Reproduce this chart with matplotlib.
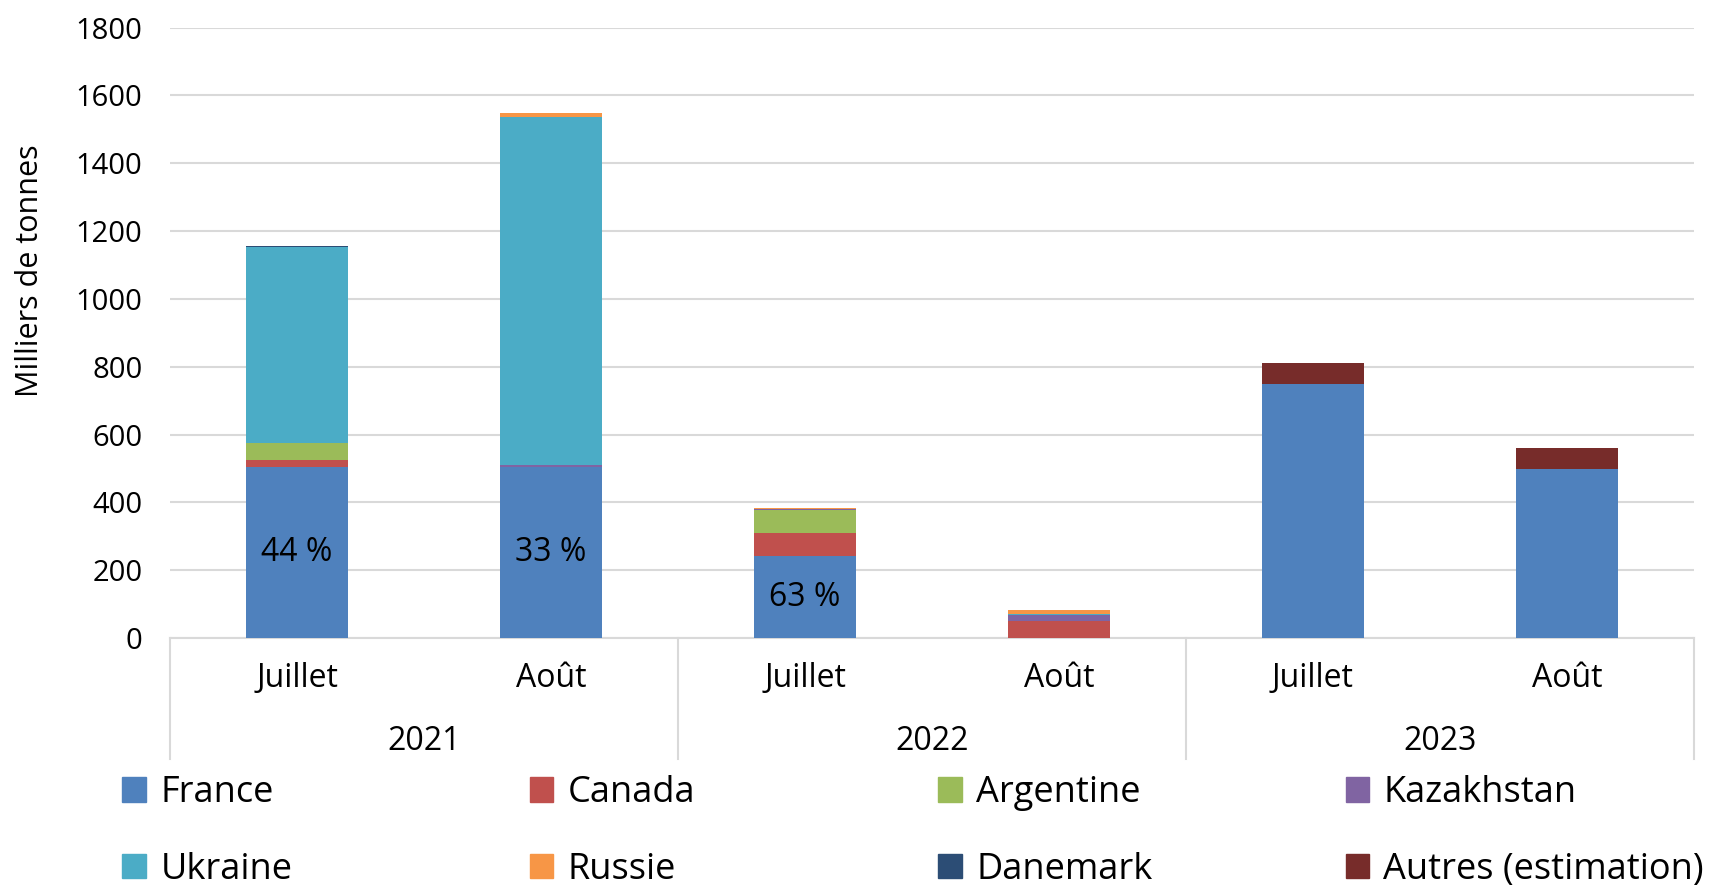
import matplotlib
matplotlib.use("Agg")
import matplotlib.pyplot as plt
from matplotlib.patches import Patch

plt.rcParams["font.family"] = ["Open Sans", "DejaVu Sans"]

months = ["Juillet", "Août", "Juillet", "Août", "Juillet", "Août"]
years = ["2021", "2022", "2023"]
pct_labels = ["44 %", "33 %", "63 %", "", "", ""]

france = [505, 504, 241, 0, 750, 499]
canada = [21, 0, 70, 51, 0, 0]
argentine = [48, 0, 67, 0, 0, 0]
kazakhstan = [0, 5, 3, 18, 0, 0]
ukraine = [580, 1027, 0, 3, 0, 0]
russie = [0, 12, 2, 10, 0, 0]
danemark = [3, 0, 0, 0, 0, 0]
autres = [0, 0, 0, 0, 61, 61]

series = [
    ("France", france, "#4F81BD"),
    ("Canada", canada, "#C0504D"),
    ("Argentine", argentine, "#9BBB59"),
    ("Kazakhstan", kazakhstan, "#8064A2"),
    ("Ukraine", ukraine, "#4BACC6"),
    ("Russie", russie, "#F79646"),
    ("Danemark", danemark, "#2C4D75"),
    ("Autres (estimation)", autres, "#772C2A"),
]

GRID = "#D9D9D9"
FS = 21    # tick numbers
FT = 23    # category / percent text

fig = plt.figure(figsize=(17.25, 8.89), dpi=100)
ax = fig.add_axes([0.0986, 0.2823, 0.8834, 0.6867])

x = list(range(len(months)))
bottom = [0] * len(months)
for name, vals, col in series:
    ax.bar(x, vals, width=0.4, bottom=bottom, color=col, label=name, zorder=3)
    bottom = [b + v for b, v in zip(bottom, vals)]

for i, lab in enumerate(pct_labels):
    if lab:
        ax.text(i, france[i] / 2, lab, ha="center", va="center", fontsize=FT, zorder=4)

ax.set_xlim(-0.5, 5.5)
ax.set_ylim(0, 1800)
ax.set_yticks(range(0, 1801, 200))
ax.yaxis.grid(True, color=GRID, lw=1.5, zorder=0)
ax.tick_params(axis="y", length=0, pad=20, labelsize=FS)
ax.tick_params(axis="x", length=0, labelbottom=False)
for s in ["top", "right", "left"]:
    ax.spines[s].set_visible(False)
ax.spines["bottom"].set_color(GRID)
ax.spines["bottom"].set_linewidth(1.5)
fig.text(0.0174, 0.696, "Milliers de tonnes", rotation=90, ha="center", va="center", fontsize=22)

tr = ax.get_xaxis_transform()
for i, m in enumerate(months):
    ax.text(i, -0.067, m, transform=tr, ha="center", va="center", fontsize=FT)
for j, yr in enumerate(years):
    ax.text(2 * j + 0.5, -0.170, yr, transform=tr, ha="center", va="center", fontsize=FT)
for xs in [-0.5, 1.5, 3.5, 5.5]:
    ax.plot([xs, xs], [0, -0.198], transform=tr, color=GRID, lw=1.5, clip_on=False)

# legend: four columns, two rows, evenly spaced like the original
cols = [(0, 4), (1, 5), (2, 6), (3, 7)]
xpos = [0.071, 0.307, 0.544, 0.780]
for (a, b), xp in zip(cols, xpos):
    hs = [Patch(color=series[k][2]) for k in (a, b)]
    ls = [series[k][0] for k in (a, b)]
    fig.legend(hs, ls, loc="upper left", bbox_to_anchor=(xp, 0.128), frameon=False,
               fontsize=26, handlelength=0.65, handleheight=0.65, handletextpad=0.4,
               labelspacing=1.12, borderaxespad=0, borderpad=0)

fig.savefig("out.png", dpi=100)
